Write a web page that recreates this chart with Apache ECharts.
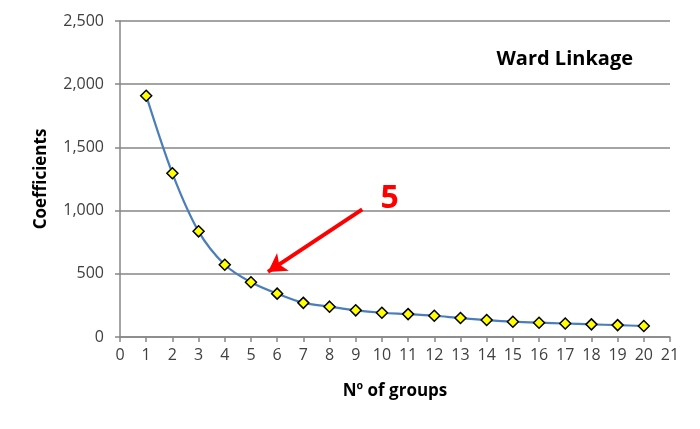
<!DOCTYPE html>
<html>
<head>
<meta charset="utf-8">
<script src="https://cdn.jsdelivr.net/npm/echarts@6/dist/echarts.min.js"></script>
<style>
  html, body { margin: 0; padding: 0; background: #fff; }
  #chart { width: 700px; height: 429px; }
</style>
</head>
<body>
<div id="chart"></div>
<script>
// 数据
const groups = [1, 2, 3, 4, 5, 6, 7, 8, 9, 10, 11, 12, 13, 14, 15, 16, 17, 18, 19, 20]
const coefficients = [1909, 1295, 836, 572, 433, 343, 270, 240, 211, 192, 181, 168, 150, 134, 121, 113, 107, 100, 94, 87]
const yTicks = [0, 500, 1000, 1500, 2000, 2500]

// 箭头起点/终点（数据坐标）
const arrowFrom = [9.25, 1010]
const arrowTo = [5.65, 515]

const font = '"Open Sans", sans-serif'

let options = {
  animation: false,
  title: {
    text: 'Ward Linkage',
    right: 62,
    top: 44,
    textStyle: { fontFamily: font, fontWeight: 'bold', fontSize: 20, color: '#000' }
  },
  grid: { left: 120, right: 30, top: 21, bottom: 92 },
  xAxis: {
    type: 'value',
    min: 0,
    max: 21,
    interval: 1,
    name: 'Nº of groups',
    nameLocation: 'middle',
    nameGap: 46,
    nameTextStyle: { fontFamily: font, fontWeight: 'bold', fontSize: 17, color: '#000' },
    axisLine: { lineStyle: { color: '#868686', width: 1.5 } },
    axisTick: { show: true, length: 5, lineStyle: { color: '#868686', width: 1.5 } },
    axisLabel: { fontFamily: font, fontSize: 16, color: '#404040', margin: 10 },
    splitLine: { show: false }
  },
  yAxis: {
    type: 'value',
    min: yTicks[0],
    max: yTicks[yTicks.length - 1],
    interval: 500,
    name: 'Coefficients',
    nameLocation: 'middle',
    nameGap: 70,
    nameTextStyle: { fontFamily: font, fontWeight: 'bold', fontSize: 17, color: '#000' },
    axisLine: { show: true, lineStyle: { color: '#868686', width: 1.5 } },
    axisTick: { show: true, length: 5, lineStyle: { color: '#868686', width: 1.5 } },
    axisLabel: {
      fontFamily: font, fontSize: 16, color: '#404040', margin: 16,
      formatter: (v) => v.toLocaleString('en-US')
    },
    splitLine: { lineStyle: { color: '#868686', width: 1.5 } }
  },
  series: [
    {
      type: 'line',
      data: groups.map((g, i) => [g, coefficients[i]]),
      smooth: 0.3,
      lineStyle: { color: '#4a7ebb', width: 2.2 },
      symbol: 'diamond',
      symbolSize: 11,
      itemStyle: { color: '#ffff00', borderColor: '#000', borderWidth: 1.5 },
      markLine: {
        silent: true,
        symbol: ['none', 'arrow'],
        symbolSize: [16, 18],
        lineStyle: { color: '#ff0000', width: 4, type: 'solid' },
        label: {
          show: true,
          position: 'start',
          formatter: '5',
          color: '#ff0000',
          fontFamily: font,
          fontWeight: 'bold',
          fontSize: 32,
          offset: [14, -8]
        },
        data: [[{ coord: arrowFrom }, { coord: arrowTo }]]
      }
    }
  ]
}

let chart = echarts.init(document.getElementById('chart'))
chart.setOption(options)
</script>
</body>
</html>
